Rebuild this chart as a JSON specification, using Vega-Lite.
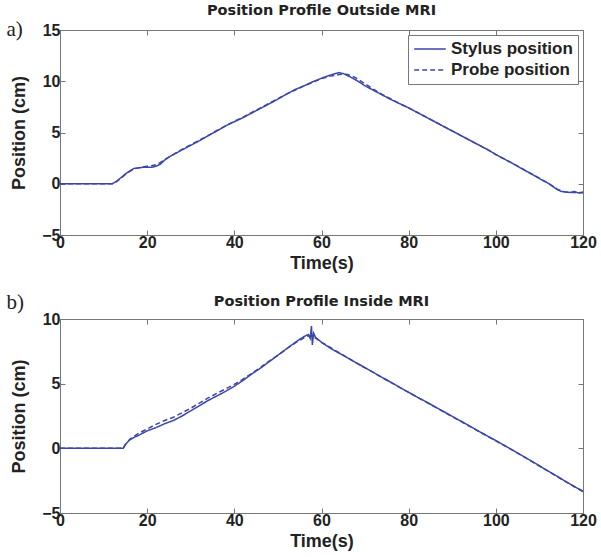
{
  "$schema": "https://vega.github.io/schema/vega-lite/v6.json",
  "padding": {"left": 5, "top": 2, "right": 5, "bottom": 2},
  "spacing": 18,
  "config": {
    "font": "Liberation Sans",
    "view": {"stroke": "#777", "strokeWidth": 1},
    "axis": {"domainColor": "#777", "tickColor": "#777", "tickSize": -5, "grid": false, "labelFlush": false, "labelOverlap": false, "labelFont": "Liberation Sans", "labelFontSize": 16, "labelFontWeight": "bold", "labelColor": "#222", "titleFont": "Liberation Sans", "titleFontSize": 18, "titleFontWeight": "bold", "titleColor": "#222"},
    "axisX": {"labelPadding": 4, "titlePadding": 4},
    "axisY": {"labelPadding": 5, "titlePadding": 13},
    "title": {"font": "DejaVu Sans", "fontSize": 14.5, "fontWeight": "bold", "color": "#222", "anchor": "middle", "frame": "group"},
    "legend": {"orient": "top-right", "offset": 5, "labelFont": "Liberation Sans", "labelFontSize": 17, "labelFontWeight": "bold", "labelColor": "#222", "symbolType": "stroke", "symbolSize": 1000, "symbolStrokeWidth": 1.5, "strokeColor": "#777", "fillColor": "white", "padding": 5, "rowPadding": 3, "labelOffset": 4, "clipHeight": 18, "cornerRadius": 0}
  },
  "datasets": {
    "a": [
      {"t":0,"v":0,"s":"Stylus position"},{"t":12,"v":0,"s":"Stylus position"},{"t":13,"v":0.25,"s":"Stylus position"},{"t":14,"v":0.6,"s":"Stylus position"},{"t":15,"v":0.95,"s":"Stylus position"},{"t":16,"v":1.25,"s":"Stylus position"},{"t":17,"v":1.5,"s":"Stylus position"},{"t":18,"v":1.55,"s":"Stylus position"},{"t":19,"v":1.6,"s":"Stylus position"},{"t":20,"v":1.6,"s":"Stylus position"},{"t":21,"v":1.6,"s":"Stylus position"},{"t":22,"v":1.7,"s":"Stylus position"},{"t":23,"v":1.9,"s":"Stylus position"},{"t":24,"v":2.3,"s":"Stylus position"},{"t":25,"v":2.6,"s":"Stylus position"},{"t":26,"v":2.85,"s":"Stylus position"},{"t":28,"v":3.3,"s":"Stylus position"},{"t":30,"v":3.75,"s":"Stylus position"},{"t":32,"v":4.2,"s":"Stylus position"},{"t":34,"v":4.7,"s":"Stylus position"},{"t":36,"v":5.15,"s":"Stylus position"},{"t":38,"v":5.65,"s":"Stylus position"},{"t":40,"v":6.05,"s":"Stylus position"},{"t":42,"v":6.45,"s":"Stylus position"},{"t":44,"v":6.9,"s":"Stylus position"},{"t":46,"v":7.35,"s":"Stylus position"},{"t":48,"v":7.8,"s":"Stylus position"},{"t":50,"v":8.25,"s":"Stylus position"},{"t":52,"v":8.75,"s":"Stylus position"},{"t":54,"v":9.2,"s":"Stylus position"},{"t":56,"v":9.55,"s":"Stylus position"},{"t":58,"v":9.95,"s":"Stylus position"},{"t":60,"v":10.3,"s":"Stylus position"},{"t":62,"v":10.6,"s":"Stylus position"},{"t":64,"v":10.85,"s":"Stylus position"},{"t":65,"v":10.75,"s":"Stylus position"},{"t":66,"v":10.55,"s":"Stylus position"},{"t":68,"v":10.1,"s":"Stylus position"},{"t":70,"v":9.55,"s":"Stylus position"},{"t":72,"v":9.1,"s":"Stylus position"},{"t":74,"v":8.65,"s":"Stylus position"},{"t":76,"v":8.2,"s":"Stylus position"},{"t":78,"v":7.8,"s":"Stylus position"},{"t":80,"v":7.4,"s":"Stylus position"},{"t":82,"v":6.95,"s":"Stylus position"},{"t":84,"v":6.5,"s":"Stylus position"},{"t":86,"v":6.05,"s":"Stylus position"},{"t":88,"v":5.6,"s":"Stylus position"},{"t":90,"v":5.15,"s":"Stylus position"},{"t":92,"v":4.7,"s":"Stylus position"},{"t":94,"v":4.25,"s":"Stylus position"},{"t":96,"v":3.8,"s":"Stylus position"},{"t":98,"v":3.35,"s":"Stylus position"},{"t":100,"v":2.85,"s":"Stylus position"},{"t":102,"v":2.4,"s":"Stylus position"},{"t":104,"v":1.95,"s":"Stylus position"},{"t":106,"v":1.45,"s":"Stylus position"},{"t":108,"v":1.0,"s":"Stylus position"},{"t":110,"v":0.5,"s":"Stylus position"},{"t":112,"v":0.05,"s":"Stylus position"},{"t":113,"v":-0.25,"s":"Stylus position"},{"t":114,"v":-0.55,"s":"Stylus position"},{"t":115,"v":-0.75,"s":"Stylus position"},{"t":116,"v":-0.8,"s":"Stylus position"},{"t":117,"v":-0.85,"s":"Stylus position"},{"t":118,"v":-0.75,"s":"Stylus position"},{"t":119,"v":-0.9,"s":"Stylus position"},{"t":120,"v":-0.8,"s":"Stylus position"},
      {"t":0,"v":0,"s":"Probe position"},{"t":12,"v":0,"s":"Probe position"},{"t":13,"v":0.2,"s":"Probe position"},{"t":14,"v":0.55,"s":"Probe position"},{"t":15,"v":0.9,"s":"Probe position"},{"t":16,"v":1.2,"s":"Probe position"},{"t":17,"v":1.45,"s":"Probe position"},{"t":18,"v":1.55,"s":"Probe position"},{"t":19,"v":1.65,"s":"Probe position"},{"t":20,"v":1.7,"s":"Probe position"},{"t":21,"v":1.75,"s":"Probe position"},{"t":22,"v":1.85,"s":"Probe position"},{"t":23,"v":2.05,"s":"Probe position"},{"t":24,"v":2.35,"s":"Probe position"},{"t":25,"v":2.6,"s":"Probe position"},{"t":26,"v":2.85,"s":"Probe position"},{"t":28,"v":3.35,"s":"Probe position"},{"t":30,"v":3.8,"s":"Probe position"},{"t":32,"v":4.25,"s":"Probe position"},{"t":34,"v":4.7,"s":"Probe position"},{"t":36,"v":5.2,"s":"Probe position"},{"t":38,"v":5.65,"s":"Probe position"},{"t":40,"v":6.1,"s":"Probe position"},{"t":42,"v":6.5,"s":"Probe position"},{"t":44,"v":6.95,"s":"Probe position"},{"t":46,"v":7.4,"s":"Probe position"},{"t":48,"v":7.85,"s":"Probe position"},{"t":50,"v":8.3,"s":"Probe position"},{"t":52,"v":8.75,"s":"Probe position"},{"t":54,"v":9.15,"s":"Probe position"},{"t":56,"v":9.55,"s":"Probe position"},{"t":58,"v":9.9,"s":"Probe position"},{"t":60,"v":10.25,"s":"Probe position"},{"t":62,"v":10.5,"s":"Probe position"},{"t":64,"v":10.65,"s":"Probe position"},{"t":65,"v":10.7,"s":"Probe position"},{"t":66,"v":10.65,"s":"Probe position"},{"t":67,"v":10.5,"s":"Probe position"},{"t":68,"v":10.3,"s":"Probe position"},{"t":70,"v":9.75,"s":"Probe position"},{"t":72,"v":9.2,"s":"Probe position"},{"t":74,"v":8.7,"s":"Probe position"},{"t":76,"v":8.25,"s":"Probe position"},{"t":78,"v":7.8,"s":"Probe position"},{"t":80,"v":7.4,"s":"Probe position"},{"t":82,"v":6.95,"s":"Probe position"},{"t":84,"v":6.5,"s":"Probe position"},{"t":86,"v":6.05,"s":"Probe position"},{"t":88,"v":5.6,"s":"Probe position"},{"t":90,"v":5.15,"s":"Probe position"},{"t":92,"v":4.7,"s":"Probe position"},{"t":94,"v":4.25,"s":"Probe position"},{"t":96,"v":3.8,"s":"Probe position"},{"t":98,"v":3.35,"s":"Probe position"},{"t":100,"v":2.85,"s":"Probe position"},{"t":102,"v":2.4,"s":"Probe position"},{"t":104,"v":1.95,"s":"Probe position"},{"t":106,"v":1.5,"s":"Probe position"},{"t":108,"v":1.0,"s":"Probe position"},{"t":110,"v":0.55,"s":"Probe position"},{"t":112,"v":0.05,"s":"Probe position"},{"t":113,"v":-0.2,"s":"Probe position"},{"t":114,"v":-0.5,"s":"Probe position"},{"t":115,"v":-0.7,"s":"Probe position"},{"t":116,"v":-0.8,"s":"Probe position"},{"t":117,"v":-0.85,"s":"Probe position"},{"t":118,"v":-0.85,"s":"Probe position"},{"t":119,"v":-0.85,"s":"Probe position"},{"t":120,"v":-0.9,"s":"Probe position"}
    ],
    "b": [
      {"t":0,"v":0,"s":"Stylus position"},{"t":14.5,"v":0,"s":"Stylus position"},{"t":15,"v":0.3,"s":"Stylus position"},{"t":16,"v":0.65,"s":"Stylus position"},{"t":17,"v":0.85,"s":"Stylus position"},{"t":18,"v":1.0,"s":"Stylus position"},{"t":20,"v":1.35,"s":"Stylus position"},{"t":22,"v":1.6,"s":"Stylus position"},{"t":24,"v":1.9,"s":"Stylus position"},{"t":26,"v":2.15,"s":"Stylus position"},{"t":28,"v":2.5,"s":"Stylus position"},{"t":30,"v":2.9,"s":"Stylus position"},{"t":32,"v":3.3,"s":"Stylus position"},{"t":34,"v":3.7,"s":"Stylus position"},{"t":36,"v":4.05,"s":"Stylus position"},{"t":38,"v":4.4,"s":"Stylus position"},{"t":40,"v":4.8,"s":"Stylus position"},{"t":42,"v":5.25,"s":"Stylus position"},{"t":44,"v":5.75,"s":"Stylus position"},{"t":46,"v":6.2,"s":"Stylus position"},{"t":48,"v":6.7,"s":"Stylus position"},{"t":50,"v":7.2,"s":"Stylus position"},{"t":52,"v":7.7,"s":"Stylus position"},{"t":54,"v":8.2,"s":"Stylus position"},{"t":56,"v":8.65,"s":"Stylus position"},{"t":57,"v":8.8,"s":"Stylus position"},{"t":57.4,"v":8.5,"s":"Stylus position"},{"t":57.7,"v":9.45,"s":"Stylus position"},{"t":57.9,"v":8.0,"s":"Stylus position"},{"t":58.2,"v":8.9,"s":"Stylus position"},{"t":58.6,"v":8.6,"s":"Stylus position"},{"t":60,"v":8.2,"s":"Stylus position"},{"t":62,"v":7.75,"s":"Stylus position"},{"t":64,"v":7.37,"s":"Stylus position"},{"t":66,"v":6.99,"s":"Stylus position"},{"t":68,"v":6.61,"s":"Stylus position"},{"t":70,"v":6.23,"s":"Stylus position"},{"t":72,"v":5.85,"s":"Stylus position"},{"t":74,"v":5.47,"s":"Stylus position"},{"t":76,"v":5.09,"s":"Stylus position"},{"t":78,"v":4.71,"s":"Stylus position"},{"t":80,"v":4.33,"s":"Stylus position"},{"t":82,"v":3.95,"s":"Stylus position"},{"t":84,"v":3.6,"s":"Stylus position"},{"t":86,"v":3.22,"s":"Stylus position"},{"t":88,"v":2.85,"s":"Stylus position"},{"t":90,"v":2.47,"s":"Stylus position"},{"t":92,"v":2.1,"s":"Stylus position"},{"t":94,"v":1.72,"s":"Stylus position"},{"t":96,"v":1.34,"s":"Stylus position"},{"t":98,"v":0.97,"s":"Stylus position"},{"t":100,"v":0.6,"s":"Stylus position"},{"t":102,"v":0.22,"s":"Stylus position"},{"t":104,"v":-0.16,"s":"Stylus position"},{"t":106,"v":-0.55,"s":"Stylus position"},{"t":108,"v":-0.95,"s":"Stylus position"},{"t":110,"v":-1.35,"s":"Stylus position"},{"t":112,"v":-1.75,"s":"Stylus position"},{"t":114,"v":-2.15,"s":"Stylus position"},{"t":116,"v":-2.55,"s":"Stylus position"},{"t":118,"v":-2.95,"s":"Stylus position"},{"t":120,"v":-3.35,"s":"Stylus position"},
      {"t":0,"v":0,"s":"Probe position"},{"t":14.5,"v":0,"s":"Probe position"},{"t":15,"v":0.3,"s":"Probe position"},{"t":16,"v":0.7,"s":"Probe position"},{"t":18,"v":1.15,"s":"Probe position"},{"t":20,"v":1.5,"s":"Probe position"},{"t":22,"v":1.85,"s":"Probe position"},{"t":24,"v":2.15,"s":"Probe position"},{"t":26,"v":2.4,"s":"Probe position"},{"t":28,"v":2.75,"s":"Probe position"},{"t":30,"v":3.1,"s":"Probe position"},{"t":32,"v":3.5,"s":"Probe position"},{"t":34,"v":3.9,"s":"Probe position"},{"t":36,"v":4.25,"s":"Probe position"},{"t":38,"v":4.6,"s":"Probe position"},{"t":40,"v":4.95,"s":"Probe position"},{"t":42,"v":5.35,"s":"Probe position"},{"t":44,"v":5.8,"s":"Probe position"},{"t":46,"v":6.25,"s":"Probe position"},{"t":48,"v":6.75,"s":"Probe position"},{"t":50,"v":7.2,"s":"Probe position"},{"t":52,"v":7.7,"s":"Probe position"},{"t":54,"v":8.15,"s":"Probe position"},{"t":56,"v":8.55,"s":"Probe position"},{"t":57,"v":8.7,"s":"Probe position"},{"t":58,"v":8.65,"s":"Probe position"},{"t":59,"v":8.45,"s":"Probe position"},{"t":60,"v":8.2,"s":"Probe position"},{"t":62,"v":7.8,"s":"Probe position"},{"t":64,"v":7.4,"s":"Probe position"},{"t":66,"v":7.0,"s":"Probe position"},{"t":68,"v":6.6,"s":"Probe position"},{"t":70,"v":6.22,"s":"Probe position"},{"t":72,"v":5.85,"s":"Probe position"},{"t":74,"v":5.45,"s":"Probe position"},{"t":76,"v":5.08,"s":"Probe position"},{"t":78,"v":4.7,"s":"Probe position"},{"t":80,"v":4.32,"s":"Probe position"},{"t":82,"v":3.95,"s":"Probe position"},{"t":84,"v":3.58,"s":"Probe position"},{"t":86,"v":3.2,"s":"Probe position"},{"t":88,"v":2.83,"s":"Probe position"},{"t":90,"v":2.45,"s":"Probe position"},{"t":92,"v":2.08,"s":"Probe position"},{"t":94,"v":1.7,"s":"Probe position"},{"t":96,"v":1.32,"s":"Probe position"},{"t":98,"v":0.95,"s":"Probe position"},{"t":100,"v":0.58,"s":"Probe position"},{"t":102,"v":0.2,"s":"Probe position"},{"t":104,"v":-0.18,"s":"Probe position"},{"t":106,"v":-0.57,"s":"Probe position"},{"t":108,"v":-0.97,"s":"Probe position"},{"t":110,"v":-1.37,"s":"Probe position"},{"t":112,"v":-1.77,"s":"Probe position"},{"t":114,"v":-2.17,"s":"Probe position"},{"t":116,"v":-2.57,"s":"Probe position"},{"t":118,"v":-2.97,"s":"Probe position"},{"t":120,"v":-3.3,"s":"Probe position"}
    ]
  },
  "vconcat": [
    {
      "width": 523,
      "height": 205,
      "title": {"text": "Position Profile Outside MRI", "offset": 0.5},
      "layer": [
        {
          "data": {"name": "a"},
          "mark": {"type": "line", "strokeWidth": 1.5},
          "encoding": {
            "x": {"field": "t", "type": "quantitative", "scale": {"domain": [0, 120], "nice": false}, "axis": {"values": [0, 20, 40, 60, 80, 100, 120], "title": "Time(s)"}},
            "y": {"field": "v", "type": "quantitative", "scale": {"domain": [-5, 15], "nice": false}, "axis": {"values": [-5, 0, 5, 10, 15], "title": "Position (cm)"}},
            "color": {"field": "s", "type": "nominal", "scale": {"domain": ["Stylus position", "Probe position"], "range": ["#3c46a8", "#3c46a8"]}, "legend": {"title": null}},
            "strokeDash": {"field": "s", "type": "nominal", "scale": {"domain": ["Stylus position", "Probe position"], "range": [[1, 0], [5, 3]]}, "legend": {"title": null}}
          }
        },
        {
          "data": {"values": [{"label": "a)"}]},
          "mark": {"type": "text", "font": "Liberation Serif", "fontSize": 21, "align": "left", "baseline": "middle", "color": "#222"},
          "encoding": {
            "text": {"field": "label"},
            "x": {"datum": -12.3, "type": "quantitative", "scale": {"domain": [0, 120], "nice": false}, "axis": {"orient": "top", "values": [0, 20, 40, 60, 80, 100, 120], "labels": false, "title": null, "domain": false}},
            "y": {"datum": 15, "type": "quantitative", "scale": {"domain": [-5, 15], "nice": false}, "axis": {"orient": "right", "values": [-5, 0, 5, 10, 15], "labels": false, "title": null, "domain": false}}
          }
        }
      ],
      "resolve": {"axis": {"x": "independent", "y": "independent"}}
    },
    {
      "width": 523,
      "height": 194,
      "title": {"text": "Position Profile Inside MRI", "offset": -17},
      "layer": [
        {
          "data": {"name": "b"},
          "mark": {"type": "line", "strokeWidth": 1.5},
          "encoding": {
            "x": {"field": "t", "type": "quantitative", "scale": {"domain": [0, 120], "nice": false}, "axis": {"values": [0, 20, 40, 60, 80, 100, 120], "title": "Time(s)"}},
            "y": {"field": "v", "type": "quantitative", "scale": {"domain": [-5, 10], "nice": false}, "axis": {"values": [-5, 0, 5, 10], "title": "Position (cm)"}},
            "color": {"field": "s", "type": "nominal", "scale": {"domain": ["Stylus position", "Probe position"], "range": ["#3c46a8", "#3c46a8"]}, "legend": {"title": null}},
            "strokeDash": {"field": "s", "type": "nominal", "scale": {"domain": ["Stylus position", "Probe position"], "range": [[1, 0], [5, 3]]}, "legend": {"title": null}}
          }
        },
        {
          "data": {"values": [{"label": "b)"}]},
          "mark": {"type": "text", "font": "Liberation Serif", "fontSize": 21, "align": "left", "baseline": "middle", "color": "#222"},
          "encoding": {
            "text": {"field": "label"},
            "x": {"datum": -12.3, "type": "quantitative", "scale": {"domain": [0, 120], "nice": false}, "axis": {"orient": "top", "values": [0, 20, 40, 60, 80, 100, 120], "labels": false, "title": null, "domain": false}},
            "y": {"datum": 11.2, "type": "quantitative", "scale": {"domain": [-5, 10], "nice": false}, "axis": {"orient": "right", "values": [-5, 0, 5, 10], "labels": false, "title": null, "domain": false}}
          }
        }
      ],
      "resolve": {"axis": {"x": "independent", "y": "independent"}}
    }
  ]
}
